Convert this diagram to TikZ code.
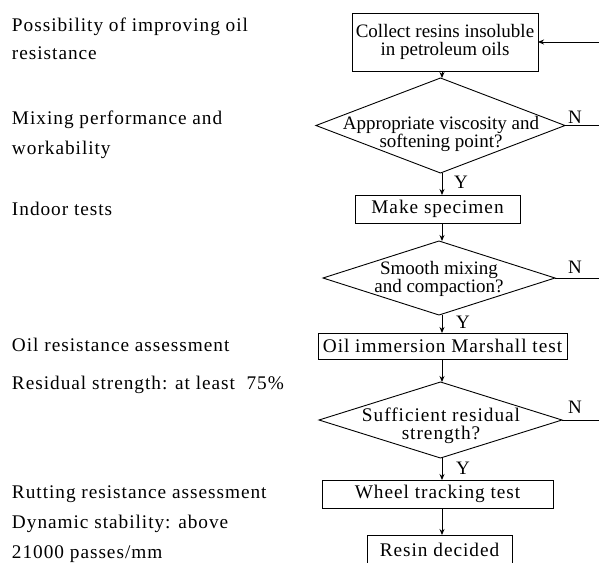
\documentclass[tikz,border=0pt]{standalone}
\usepackage{fontspec}
\setmainfont{Liberation Serif}
\newfontfamily\trk[LetterSpace=5]{Liberation Serif}
\usetikzlibrary{shapes.geometric,arrows.meta}
\tikzset{
  every node/.style={inner sep=0pt, outer sep=0pt},
  lefttxt/.style={anchor=base west, font=\trk\fontsize{19.3}{19}\selectfont},
  boxn/.style={draw, line width=0.9pt, rectangle, align=center},
  dia/.style={draw, line width=0.9pt, diamond},
  cond/.style={font=\fontsize{19}{18}\selectfont, align=center},
  trt/.style={font=\trk\fontsize{19.3}{18.5}\selectfont, align=center},
  arr/.style={-{Stealth[length=6pt,width=5pt]}, line width=0.9pt},
  ln/.style={line width=0.9pt},
}
\begin{document}
\begin{tikzpicture}[x=1pt,y=-1pt]
\useasboundingbox (0,0) rectangle (599,562);
\clip (0,0) rectangle (599,562);
\fill[white] (0,0) rectangle (599,562);
% left annotations
\node[lefttxt] (l1) at (12,31) {Possibility of improving oil};
\node[lefttxt] (l2) at (12,59) {resistance};
\node[lefttxt] (l3) at (12,124) {Mixing performance and};
\node[lefttxt] (l4) at (12,154) {workability};
\node[lefttxt] (l5) at (12,215) {Indoor tests};
\node[lefttxt] (l6) at (12,351) {Oil resistance assessment};
\node[lefttxt] (l7) at (12,389) {Residual strength: at least\ \ 75\%};
\node[lefttxt] (l8) at (12,498) {Rutting resistance assessment};
\node[lefttxt] (l9) at (12,528) {Dynamic stability: above};
\node[lefttxt] (l10) at (12,558) {21000 passes/mm};
% spine and right edge
\coordinate (sp) at (442,0);
\coordinate (re) at (602,0);
% flowchart nodes
\node[boxn, cond, minimum width=186pt, minimum height=58pt] (b1) at (445,42) {Collect resins insoluble\\in petroleum oils};
\node[dia, minimum width=249pt, minimum height=95pt] (d1) at (440.5,125.5) {};
\node[cond] (t1) at (441,134) {Appropriate viscosity and\\softening point?};
\node[boxn, trt, minimum width=165pt, minimum height=28pt] (b2) at (437.5,209) {Make specimen};
\node[dia, minimum width=232pt, minimum height=74pt] (d2) at (439,278) {};
\node[cond] (t2) at (439,279) {Smooth mixing\\and compaction?};
\node[boxn, trt, minimum width=249pt, minimum height=26pt] (b3) at (442.5,346) {Oil immersion Marshall test};
\node[dia, minimum width=243pt, minimum height=76pt] (d3) at (440.5,420) {};
\node[trt] (t3) at (441,426) {Sufficient residual\\strength?};
\node[boxn, trt, minimum width=231pt, minimum height=28pt] (b4) at (437.5,494) {Wheel tracking test};
\node[boxn, trt, minimum width=145pt, minimum height=30pt] (b5) at (439.5,550) {Resin decided};
% labels
\node[cond] (n1) at (575,117) {N};
\node[cond] (n2) at (575,267) {N};
\node[cond] (n3) at (575,407) {N};
\node[cond] (y1) at (461,182) {Y};
\node[cond] (y2) at (463,322) {Y};
\node[cond] (y3) at (463,468) {Y};
% connectors
\draw[arr] (b1.south -| sp) -- (d1.north -| sp);
\draw[arr] (d1.south -| sp) -- (b2.north -| sp);
\draw[arr] (b2.south -| sp) -- (d2.north -| sp);
\draw[arr] (d2.south -| sp) -- (b3.north -| sp);
\draw[arr] (b3.south -| sp) -- (d3.north -| sp);
\draw[arr] (d3.south -| sp) -- (b4.north -| sp);
\draw[arr] (b4.south -| sp) -- (b5.north -| sp);
\draw[ln] (d1.east) -- (d1.east -| re);
\draw[ln] (d2.east) -- (d2.east -| re);
\draw[ln] (d3.east) -- (d3.east -| re);
\draw[arr] (b1.east -| re) -- (b1.east);
\end{tikzpicture}
\end{document}
